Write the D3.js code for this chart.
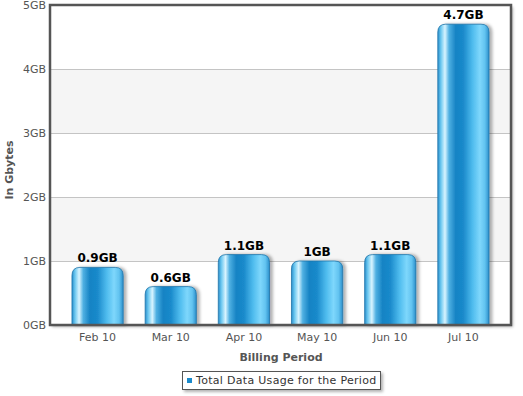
<!DOCTYPE html>
<html><head><meta charset="utf-8">
<script src="https://cdn.jsdelivr.net/npm/d3@7"></script>
<style>body{margin:0;background:#fff}svg{display:block}</style>
</head><body>
<svg id="c" width="523" height="396"></svg>
<script>
const categories = ["Feb 10","Mar 10","Apr 10","May 10","Jun 10","Jul 10"];
const values = [0.9, 0.6, 1.1, 1.0, 1.1, 4.7];
const valueLabels = ["0.9GB","0.6GB","1.1GB","1GB","1.1GB","4.7GB"];
const yTicks = [0,1,2,3,4,5];
const yTickLabels = ["0GB","1GB","2GB","3GB","4GB","5GB"];
const seriesName = "Total Data Usage for the Period";
const xTitle = "Billing Period";
const yTitle = "In Gbytes";

const svg = d3.select("#c");
const L = 50, R = 511, T = 5, B = 325;
const font = "DejaVu Sans, Verdana, sans-serif";

const y = d3.scaleLinear().domain([0,5]).range([B,T]);
const x = d3.scaleBand().domain(categories).range([L+11, R-11]).paddingInner(0.3).paddingOuter(0.15);

const defs = svg.append("defs");
const f = defs.append("filter").attr("id","sh").attr("x","-20%").attr("y","-20%").attr("width","150%").attr("height","150%");
f.append("feDropShadow").attr("dx",2).attr("dy",2).attr("stdDeviation",1.5).attr("flood-color","#000").attr("flood-opacity",0.3);
const fb = defs.append("filter").attr("id","bsh").attr("x","-20%").attr("y","-20%").attr("width","150%").attr("height","150%");
fb.append("feDropShadow").attr("dx",3).attr("dy",0).attr("stdDeviation",1.5).attr("flood-color","#000").attr("flood-opacity",0.3);

const g = defs.append("linearGradient").attr("id","bar").attr("x1","0").attr("x2","1").attr("y1","0").attr("y2","0");
[[0,"#2a8fcc"],[0.06,"#6cc8f0"],[0.14,"#d8f4ff"],[0.22,"#4fb0e2"],[0.35,"#1683c4"],[0.5,"#1a8acb"],[0.68,"#4fbcee"],[0.82,"#7ed7fc"],[0.92,"#62c3f0"],[1,"#2b8fcb"]]
  .forEach(([o,c])=>g.append("stop").attr("offset",o).attr("stop-color",c));

// plot background with shadow
svg.append("rect").attr("x",L).attr("y",T).attr("width",R-L).attr("height",B-T)
  .attr("fill","#fff").attr("filter","url(#sh)");
// alternating bands
for (let i=0;i<yTicks.length-1;i++){
  if (i%2===1) svg.append("rect").attr("x",L).attr("width",R-L)
    .attr("y",y(yTicks[i+1])).attr("height",y(yTicks[i])-y(yTicks[i+1])).attr("fill","#f5f5f5");
}
// gridlines
svg.append("g").selectAll("line").data(yTicks.slice(1,-1)).join("line")
  .attr("x1",L).attr("x2",R).attr("y1",d=>y(d)+0.5).attr("y2",d=>y(d)+0.5)
  .attr("stroke","#c4c4c4").attr("stroke-width",1);

// bars
const r = 8;
function barPath(x0,w,yt,yb){
  const rr = Math.min(r, (yb-yt), w/2);
  return `M${x0},${yb} V${yt+rr} Q${x0},${yt} ${x0+rr},${yt} H${x0+w-rr} Q${x0+w},${yt} ${x0+w},${yt+rr} V${yb} Z`;
}
svg.append("g").selectAll("path").data(values).join("path")
  .attr("d",(d,i)=>barPath(x(categories[i]), x.bandwidth(), y(d), B))
  .attr("fill","url(#bar)").attr("stroke","#1e74a8").attr("stroke-width",0.8)
  .attr("filter","url(#bsh)");

// value labels
svg.append("g").selectAll("text").data(values).join("text")
  .attr("x",(d,i)=>x(categories[i])+x.bandwidth()/2).attr("y",d=>y(d)-5)
  .attr("text-anchor","middle").attr("font-family",font).attr("font-weight","bold")
  .attr("font-size",12).attr("fill","#000").text((d,i)=>valueLabels[i]);

// frame
svg.append("rect").attr("x",L).attr("y",T).attr("width",R-L).attr("height",B-T)
  .attr("fill","none").attr("stroke","#555").attr("stroke-width",2.5);

// y axis labels
svg.append("g").selectAll("text").data(yTicks).join("text")
  .attr("x",46).attr("y",d=>y(d)+4).attr("text-anchor","end")
  .attr("font-family",font).attr("font-size",11).attr("fill","#555")
  .text((d,i)=>yTickLabels[i]);

// x axis labels
svg.append("g").selectAll("text").data(categories).join("text")
  .attr("x",d=>x(d)+x.bandwidth()/2).attr("y",341).attr("text-anchor","middle")
  .attr("font-family",font).attr("font-size",11).attr("fill","#555").text(d=>d);

// axis titles
svg.append("text").attr("x",281).attr("y",361).attr("text-anchor","middle")
  .attr("font-family",font).attr("font-size",11).attr("font-weight","bold").attr("fill","#555").text(xTitle);
svg.append("text").attr("transform",`translate(13,170) rotate(-90)`).attr("text-anchor","middle")
  .attr("font-family",font).attr("font-size",11).attr("font-weight","bold").attr("fill","#555").text(yTitle);

// legend
const lg = svg.append("g");
const lt = lg.append("text").attr("x",196).attr("y",384).attr("font-family",font)
  .attr("font-size",11).attr("letter-spacing",0.3).attr("fill","#333").text(seriesName);
const tw = lt.node().getComputedTextLength();
lg.insert("rect","text").attr("x",182.5).attr("y",371.5).attr("width",196+tw+4-182.5).attr("height",18)
  .attr("fill","#fff").attr("stroke","#555").attr("stroke-width",1).attr("filter","url(#sh)");
lg.append("rect").attr("x",187).attr("y",378).attr("width",5).attr("height",5).attr("fill","#1a8acb");
</script>
</body></html>
